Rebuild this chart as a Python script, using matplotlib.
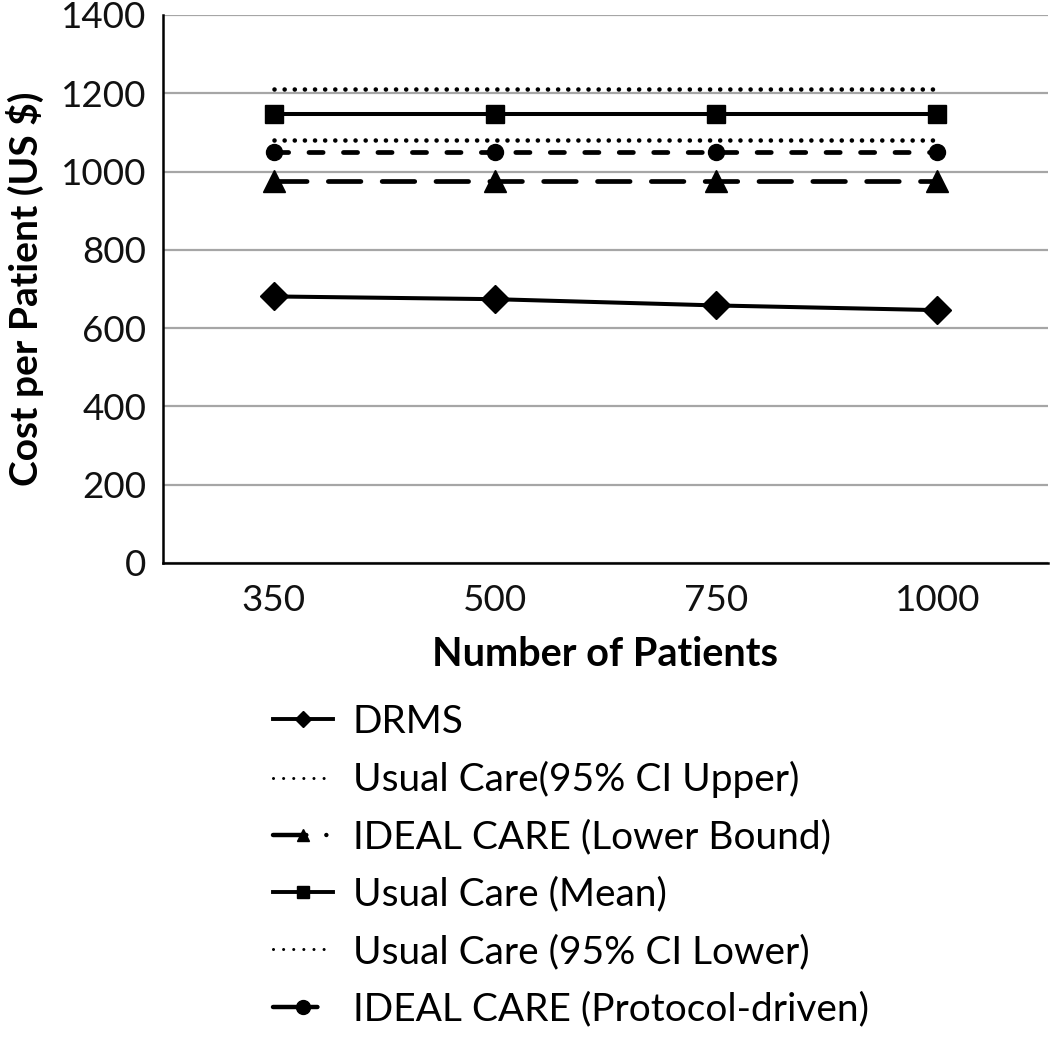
import matplotlib
matplotlib.use('Agg')
import matplotlib.pyplot as plt
from matplotlib.lines import Line2D

plt.rcParams['font.family'] = ['Lato', 'DejaVu Sans']

# data
patients = ['350', '500', '750', '1000']
drms = [681, 674, 658, 646]
usual_upper = [1210, 1210, 1210, 1210]
ideal_lower = [977, 977, 977, 977]
usual_mean = [1148, 1148, 1148, 1148]
usual_lower = [1080, 1080, 1080, 1080]
ideal_protocol = [1050, 1050, 1050, 1050]
yticks = [0, 200, 400, 600, 800, 1000, 1200, 1400]

W, H = 1050, 1040
fig = plt.figure(figsize=(W / 100, H / 100), dpi=100)
ax = fig.add_axes([163 / W, 1 - 563 / H, (1048 - 163) / W, (563 - 15) / H])

x = list(range(len(patients)))
dotted = (0, (0.01, 2.2))
short_dash = (0, (3.0, 4.3))
long_dash = (0, (6.9, 4.5))

ax.plot(x, drms, color='black', lw=2.9, marker='D', ms=14.5, zorder=5)
ax.plot(x, usual_upper, color='black', lw=3.3, ls=dotted, dash_capstyle='round', zorder=4)
ax.plot(x, ideal_lower, color='black', lw=3.4, ls=long_dash, dash_capstyle='round',
        marker='^', ms=15.5, zorder=4)
ax.plot(x, usual_mean, color='black', lw=2.9, marker='s', ms=12.7, zorder=4)
ax.plot(x, usual_lower, color='black', lw=3.3, ls=dotted, dash_capstyle='round', zorder=4)
ax.plot(x, ideal_protocol, color='black', lw=3.4, ls=short_dash, dash_capstyle='round',
        marker='o', ms=11.5, zorder=4)

ax.set_xlim(-0.5, 3.5)
ax.set_ylim(0, 1400)
ax.set_xticks(x)
ax.set_xticklabels(patients)
ax.set_yticks(yticks)
ax.yaxis.grid(True, color='#a6a6a6', lw=1.6)
ax.set_axisbelow(True)
for s in ['top', 'right']:
    ax.spines[s].set_visible(False)
for s in ['left', 'bottom']:
    ax.spines[s].set_linewidth(1.8)
    ax.spines[s].set_color('black')
ax.tick_params(length=0, labelsize=26.5, colors='#111111')
ax.tick_params(axis='y', pad=12)
ax.tick_params(axis='x', pad=15)

ax.set_xlabel('Number of Patients', fontsize=28.5, fontweight='bold', labelpad=14)
ax.set_ylabel('Cost per Patient (US $)', fontsize=28, fontweight='bold', labelpad=12)

# legend proxies with smaller markers, like the reference
handles = [
    Line2D([], [], color='black', lw=2.8, marker='D', ms=8),
    Line2D([], [], color='black', lw=2.2, ls=(0, (0.01, 3.3)), dash_capstyle='round'),
    Line2D([], [], color='black', lw=3.2, ls=(0, (7.5, 4.5, 0.01, 20)), dash_capstyle='round',
           marker='^', ms=9),
    Line2D([], [], color='black', lw=2.8, marker='s', ms=9),
    Line2D([], [], color='black', lw=2.2, ls=(0, (0.01, 3.3)), dash_capstyle='round'),
    Line2D([], [], color='black', lw=3.2, ls=(0, (10, 50)), dash_capstyle='round',
           marker='o', ms=10),
]
labels = ['DRMS', 'Usual Care(95% CI Upper)', 'IDEAL CARE (Lower Bound)',
          'Usual Care (Mean)', 'Usual Care (95% CI Lower)', 'IDEAL CARE (Protocol-driven)']
fig.legend(handles, labels, loc='upper left', bbox_to_anchor=(273 / W, 1 - 704 / H),
           frameon=False, fontsize=28, handlelength=1.55, handletextpad=0.5,
           labelspacing=0.545, borderpad=0, borderaxespad=0)

fig.savefig('out.png', dpi=100)
